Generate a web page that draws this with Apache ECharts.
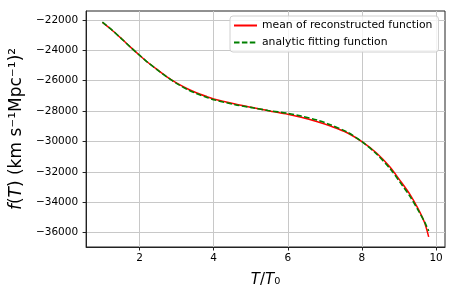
<!DOCTYPE html>
<html>
<head>
<meta charset="utf-8">
<script src="https://cdn.jsdelivr.net/npm/echarts@6/dist/echarts.min.js"></script>
<style>html,body{margin:0;padding:0;background:#fff}#c{width:457px;height:293px}</style>
</head>
<body>
<div id="c"></div>
<script>
const xValues    = [1.0, 1.24, 1.51, 1.78, 2.0, 2.22, 2.49, 2.75, 3.02, 3.29, 3.55, 3.82, 4.0, 4.58, 5.02, 5.47, 6.0, 6.36, 6.8, 7.15, 7.6, 8.0, 8.4, 8.75, 9.02, 9.29, 9.51, 9.69, 9.8];
const meanValues = [-22160, -22631, -23224, -23840, -24321, -24783, -25290, -25760, -26180, -26530, -26807, -27049, -27200, -27532, -27750, -27975, -28213, -28410, -28700, -28983, -29425, -30018, -30780, -31667, -32544, -33467, -34410, -35350, -36280];
const fitValues  = [-22140, -22625, -23224, -23840, -24321, -24790, -25300, -25775, -26205, -26575, -26860, -27100, -27250, -27580, -27770, -27960, -28150, -28330, -28600, -28900, -29380, -30018, -30840, -31770, -32660, -33600, -34500, -35300, -35900];
const xTicks = [2, 4, 6, 8, 10];
const yTicks = [-36000, -34000, -32000, -30000, -28000, -26000, -24000, -22000];
const seriesNames = ['mean of reconstructed function', 'analytic fitting function'];

const pairs = (xs, ys) => xs.map((x, i) => [x, ys[i]]);
const fmt = v => String(v).replace('-', '\u2212');
const FONT = 'DejaVu Sans';

const chart = echarts.init(document.getElementById('c'), null, {renderer: 'canvas'});
chart.setOption({
  animation: false,
  backgroundColor: '#fff',
  grid: {left: 83, right: 12, top: 11, bottom: 46, show: true, borderColor: '#222', borderWidth: 1, backgroundColor: 'transparent'},
  legend: {
    left: 230, top: 16, orient: 'vertical',
    itemWidth: 23, itemHeight: 10, itemGap: 6,
    padding: [4, 6, 4, 3],
    backgroundColor: 'rgba(255,255,255,0.8)',
    borderColor: '#d0d0d0', borderWidth: 1, borderRadius: 3,
    itemStyle: {opacity: 0},
    textStyle: {fontFamily: FONT, fontSize: 10.8, color: '#000'},
    data: seriesNames
  },
  xAxis: {
    type: 'value', min: 0.56, max: 10.24,
    name: '{i|T}/{i|T}₀', nameLocation: 'middle', nameGap: 26,
    nameTextStyle: {fontFamily: FONT, fontSize: 15, color: '#000', rich: {i: {fontStyle: 'italic', fontFamily: FONT, fontSize: 15, color: '#000'}}},
    axisLine: {show: true, lineStyle: {color: '#222', width: 1}},
    axisTick: {show: true, length: 3.5, lineStyle: {color: '#222'}, customValues: xTicks},
    axisLabel: {customValues: xTicks, formatter: fmt, fontFamily: FONT, fontSize: 10.5, color: '#000', margin: 6},
    splitLine: {show: true, lineStyle: {color: '#c8c8c8', width: 1}}
  },
  yAxis: {
    type: 'value', min: -36950, max: -21410,
    name: '{i|f}({i|T}) (km s⁻¹Mpc⁻¹)²', nameLocation: 'middle', nameGap: 55, nameRotate: 90,
    nameTextStyle: {fontFamily: FONT, fontSize: 17, color: '#000', rich: {i: {fontStyle: 'italic', fontFamily: FONT, fontSize: 17, color: '#000'}}},
    axisLine: {show: true, lineStyle: {color: '#222', width: 1}},
    axisTick: {show: true, length: 3.5, lineStyle: {color: '#222'}, customValues: yTicks},
    axisLabel: {customValues: yTicks, formatter: fmt, fontFamily: FONT, fontSize: 10.5, color: '#000', margin: 8},
    splitLine: {show: true, lineStyle: {color: '#c8c8c8', width: 1}}
  },
  series: [
    {name: seriesNames[0], type: 'line', data: pairs(xValues, meanValues), smooth: 0.3, showSymbol: false, symbol: 'none',
     lineStyle: {color: '#ff0000', width: 1.5}, itemStyle: {color: '#ff0000'}},
    {name: seriesNames[1], type: 'line', data: pairs(xValues, fitValues), smooth: 0.3, showSymbol: false, symbol: 'none',
     lineStyle: {color: '#008000', width: 1.6, type: [5.5, 2.4]}, itemStyle: {color: '#008000'}}
  ]
});
</script>
</body>
</html>
